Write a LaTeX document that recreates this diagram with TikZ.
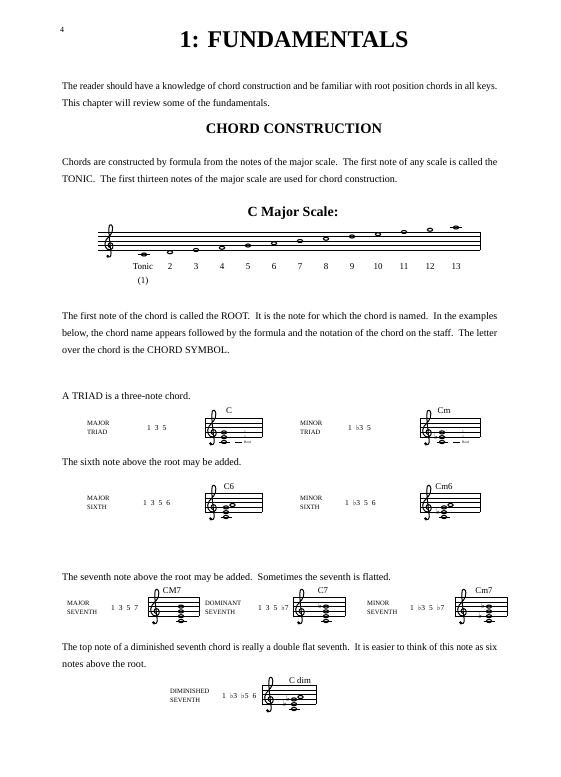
\documentclass[tikz,border=0pt]{standalone}
\usepackage{fontspec}
\setmainfont{Liberation Serif}
\newfontfamily\symfont{DejaVu Sans}
\usetikzlibrary{shapes.geometric}
\newcommand{\flatsign}{{\symfont\char"266D}}

\begin{document}
\begin{tikzpicture}[x=1pt,y=1pt,
  txt/.style={anchor=base west, inner sep=0pt, font=\fontsize{10.1}{12}\selectfont},
  head/.style={inner sep=0pt, font=\bfseries\fontsize{14.5}{17}\selectfont},
  lbl/.style={anchor=west, inner sep=0pt, align=left, font=\fontsize{6.6}{8.8}\selectfont},
  form/.style={anchor=west, inner sep=0pt, font=\fontsize{7.5}{9}\selectfont},
  csym/.style={inner sep=0pt, font=\fontsize{8.8}{10}\selectfont},
  num/.style={inner sep=0pt, font=\fontsize{9}{11}\selectfont},
  tiny/.style={anchor=west, inner sep=0pt, font=\fontsize{3.6}{4}\selectfont},
  wnote/.style={ellipse, draw, line width=1.1pt, minimum width=5.2pt, minimum height=3.1pt, inner sep=0pt},
  flat/.style={anchor=base east, inner sep=0pt, font=\symfont\fontsize{8}{8}\selectfont},
  staffline/.style={line width=0.55pt},
  gclef/.pic={
    \draw[line width=1.0pt] (0.25,0.55)
      .. controls (-0.35,0.65) and (-0.35,1.55) .. (0.3,1.6)
      .. controls (1.0,1.6) and (1.15,0.35) .. (0.35,0.05)
      .. controls (-0.7,-0.2) and (-1.3,1.3) .. (-0.6,2.3)
      .. controls (-0.1,3.0) and (0.9,3.6) .. (0.8,4.9)
      .. controls (0.75,5.6) and (0.25,5.9) .. (0.05,5.3)
      .. controls (-0.2,4.3) and (0.2,1.5) .. (0.45,-0.6)
      .. controls (0.55,-1.4) and (0.1,-1.8) .. (-0.35,-1.6);
    \fill (-0.3,-1.35) circle (0.32);
  }]
\useasboundingbox[fill=white] (0,0) rectangle (560,-777);

% page head
\node[inner sep=0pt, font=\fontsize{8}{9}\selectfont] (pagenum) at (62,-30) {4};
\node[inner sep=0pt, font=\bfseries\fontsize{24}{28}\selectfont] (title) at (294,-40) {1: FUNDAMENTALS};

\node[txt] (p1a) at (62,-89.5) {\resizebox{435pt}{\height}{The reader should have a knowledge of chord construction and be familiar with root position chords in all keys.}};
\node[txt] (p1b) at (62,-106.5) {This chapter will review some of the fundamentals.};

\node[head] (cc) at (294,-129) {CHORD CONSTRUCTION};

\node[txt] (p2a) at (62,-165.5) {\resizebox{435pt}{\height}{Chords are constructed by formula from the notes of the major scale.\ \ The first note of any scale is called the}};
\node[txt] (p2b) at (62,-182.5) {TONIC.\ \ The first thirteen notes of the major scale are used for chord construction.};

% C major scale
\node[head, font=\bfseries\fontsize{14}{17}\selectfont] (cms) at (293,-213) {C Major Scale:};
\foreach \k in {0,...,4} \draw[staffline] (98,-232-\k*4.5) -- (480,-232-\k*4.5);
\draw[staffline] (480,-232) -- (480,-250);
\pic[scale=4.5] at (109,-250) {gclef};

\draw[staffline] (138,-254.5) -- (150,-254.5);
\draw[staffline] (450,-227.5) -- (462,-227.5);
\node[wnote] (s1) at (144,-254.5) {};
\node[wnote] (s2) at (170,-252.25) {};
\node[wnote] (s3) at (196,-250) {};
\node[wnote] (s4) at (222,-247.75) {};
\node[wnote] (s5) at (248,-245.5) {};
\node[wnote] (s6) at (274,-243.25) {};
\node[wnote] (s7) at (300,-241) {};
\node[wnote] (s8) at (326,-238.75) {};
\node[wnote] (s9) at (352,-236.5) {};
\node[wnote] (s10) at (378,-234.25) {};
\node[wnote] (s11) at (404,-232) {};
\node[wnote] (s12) at (430,-229.75) {};
\node[wnote] (s13) at (456,-227.5) {};

\node[num] (n1) at (143,-267) {Tonic};
\node[num] (n1b) at (143,-281) {(1)};
\node[num] (n2) at (170,-267) {2};
\node[num] (n3) at (196,-267) {3};
\node[num] (n4) at (222,-267) {4};
\node[num] (n5) at (248,-267) {5};
\node[num] (n6) at (274,-267) {6};
\node[num] (n7) at (300,-267) {7};
\node[num] (n8) at (326,-267) {8};
\node[num] (n9) at (352,-267) {9};
\node[num] (n10) at (378,-267) {10};
\node[num] (n11) at (404,-267) {11};
\node[num] (n12) at (430,-267) {12};
\node[num] (n13) at (456,-267) {13};

\node[txt] (p3a) at (62,-319.5) {\resizebox{435pt}{\height}{The first note of the chord is called the ROOT.\ \ It is the note for which the chord is named.\ \ In the examples}};
\node[txt] (p3b) at (62,-336.5) {\resizebox{435pt}{\height}{below, the chord name appears followed by the formula and the notation of the chord on the staff.\ \ The letter}};
\node[txt] (p3c) at (62,-353) {over the chord is the CHORD SYMBOL.};

% triads
\node[txt] (p4) at (62,-399.5) {A TRIAD is a three-note chord.};

\node[lbl] (majtri) at (87,-428) {MAJOR\\TRIAD};
\node[form] (majtrif) at (147,-428) {1\hspace{4pt}3\hspace{4pt}5};
\foreach \k in {0,...,4} \draw[staffline] (205,-418-\k*4.8) -- (262,-418-\k*4.8);
\draw[staffline] (205,-418) -- (205,-437.2);
\draw[staffline] (262,-418) -- (262,-437.2);
\pic[scale=4.8] at (212,-437.2) {gclef};
\draw[staffline] (218.5,-442) -- (229.5,-442);
\node[wnote] (c1) at (224,-442) {};
\node[wnote] (c3) at (224,-437.2) {};
\node[wnote] (c5) at (224,-432.4) {};
\node[csym] (csymC) at (229,-411) {C};
\draw[line width=0.9pt] (235,-442) -- (242,-442);
\draw[line width=0.9pt] (235,-437.2) -- (242,-437.2);
\draw[line width=0.9pt] (235,-432.4) -- (242,-432.4);
\node[tiny] (c5t) at (244,-432.4) {5};
\node[tiny] (c3t) at (244,-437.2) {3};
\node[tiny] (c1t) at (244,-442.6) {Root};

\node[lbl] (mintri) at (300,-428) {MINOR\\TRIAD};
\node[form] (mintrif) at (348,-428) {1\hspace{4pt}\flatsign3\hspace{4pt}5};
\foreach \k in {0,...,4} \draw[staffline] (420,-418-\k*4.8) -- (480,-418-\k*4.8);
\draw[staffline] (420,-418) -- (420,-437.2);
\draw[staffline] (480,-418) -- (480,-437.2);
\pic[scale=4.8] at (427,-437.2) {gclef};
\draw[staffline] (436.5,-442) -- (447.5,-442);
\node[wnote] (m1) at (442,-442) {};
\node[wnote] (m3) at (442,-437.2) {};
\node[wnote] (m5) at (442,-432.4) {};
\node[flat] (m3f) at (m3.west) [xshift=-0.8pt, yshift=-1.8pt] {\char"266D};
\node[csym] (csymCm) at (444,-411) {Cm};
\draw[line width=0.9pt] (453,-442) -- (460,-442);
\draw[line width=0.9pt] (453,-437.2) -- (460,-437.2);
\draw[line width=0.9pt] (453,-432.4) -- (460,-432.4);
\node[tiny] (m5t) at (462,-432.4) {5};
\node[tiny] (m3t) at (462,-437.2) {3};
\node[tiny] (m1t) at (462,-442.6) {Root};

% sixths
\node[txt] (p5) at (62,-465.5) {The sixth note above the root may be added.};

\node[lbl] (majsix) at (87,-503) {MAJOR\\SIXTH};
\node[form] (majsixf) at (143,-503) {1\hspace{4pt}3\hspace{4pt}5\hspace{4pt}6};
\foreach \k in {0,...,4} \draw[staffline] (205,-493-\k*4.8) -- (262,-493-\k*4.8);
\draw[staffline] (205,-493) -- (205,-512.2);
\draw[staffline] (262,-493) -- (262,-512.2);
\pic[scale=4.8] at (212,-512.2) {gclef};
\draw[staffline] (220.5,-517) -- (231.5,-517);
\node[wnote] (d1) at (226,-517) {};
\node[wnote] (d3) at (226,-512.2) {};
\node[wnote] (d5) at (226,-507.4) {};
\node[wnote] (d6) at (232.5,-505) {};
\node[csym] (csymC6) at (229,-487) {C6};

\node[lbl] (minsix) at (300,-503) {MINOR\\SIXTH};
\node[form] (minsixf) at (345,-503) {1\hspace{4pt}\flatsign3\hspace{4pt}5\hspace{4pt}6};
\foreach \k in {0,...,4} \draw[staffline] (420,-493-\k*4.8) -- (480,-493-\k*4.8);
\draw[staffline] (420,-493) -- (420,-512.2);
\draw[staffline] (480,-493) -- (480,-512.2);
\pic[scale=4.8] at (427,-512.2) {gclef};
\draw[staffline] (438.5,-517) -- (449.5,-517);
\node[wnote] (e1) at (444,-517) {};
\node[wnote] (e3) at (444,-512.2) {};
\node[wnote] (e5) at (444,-507.4) {};
\node[wnote] (e6) at (450.5,-505) {};
\node[flat] (e3f) at (e3.west) [xshift=-0.8pt, yshift=-1.8pt] {\char"266D};
\node[csym] (csymCm6) at (444,-487) {Cm6};

% sevenths
\node[txt] (p6) at (62,-580.5) {The seventh note above the root may be added.\ \ Sometimes the seventh is flatted.};

\node[lbl] (majsev) at (67,-608) {MAJOR\\SEVENTH};
\node[form] (majsevf) at (111,-608) {1\hspace{4pt}3\hspace{4pt}5\hspace{4pt}7};
\foreach \k in {0,...,4} \draw[staffline] (148,-597-\k*4.8) -- (199,-597-\k*4.8);
\draw[staffline] (148,-597) -- (148,-616.2);
\draw[staffline] (199,-597) -- (199,-616.2);
\pic[scale=4.8] at (155,-616.2) {gclef};
\draw[staffline] (175.5,-621) -- (186.5,-621);
\node[wnote] (f1) at (181,-621) {};
\node[wnote] (f3) at (181,-616.2) {};
\node[wnote] (f5) at (181,-611.4) {};
\node[wnote] (f7) at (181,-606.6) {};
\node[csym] (csymCM7) at (172,-591) {CM7};

\node[lbl] (domsev) at (205,-608) {DOMINANT\\SEVENTH};
\node[form] (domsevf) at (258,-608) {1\hspace{4pt}3\hspace{4pt}5\hspace{4pt}\flatsign7};
\foreach \k in {0,...,4} \draw[staffline] (293,-597-\k*4.8) -- (345,-597-\k*4.8);
\draw[staffline] (293,-597) -- (293,-616.2);
\draw[staffline] (345,-597) -- (345,-616.2);
\pic[scale=4.8] at (300,-616.2) {gclef};
\draw[staffline] (320.5,-621) -- (331.5,-621);
\node[wnote] (g1) at (326,-621) {};
\node[wnote] (g3) at (326,-616.2) {};
\node[wnote] (g5) at (326,-611.4) {};
\node[wnote] (g7) at (326,-606.6) {};
\node[flat] (g7f) at (g7.west) [xshift=-0.8pt, yshift=-1.8pt] {\char"266D};
\node[csym] (csymC7) at (323,-591) {C7};

\node[lbl] (minsev) at (367,-608) {MINOR\\SEVENTH};
\node[form] (minsevf) at (410,-608) {1\hspace{4pt}\flatsign3\hspace{4pt}5\hspace{4pt}\flatsign7};
\foreach \k in {0,...,4} \draw[staffline] (455,-597-\k*4.8) -- (507,-597-\k*4.8);
\draw[staffline] (455,-597) -- (455,-616.2);
\draw[staffline] (507,-597) -- (507,-616.2);
\pic[scale=4.8] at (462,-616.2) {gclef};
\draw[staffline] (483.5,-621) -- (494.5,-621);
\node[wnote] (h1) at (489,-621) {};
\node[wnote] (h3) at (489,-616.2) {};
\node[wnote] (h5) at (489,-611.4) {};
\node[wnote] (h7) at (489,-606.6) {};
\node[flat] (h3f) at (h3.west) [xshift=-3.5pt, yshift=-1.8pt] {\char"266D};
\node[flat] (h7f) at (h7.west) [xshift=-0.8pt, yshift=-1.8pt] {\char"266D};
\node[csym] (csymCm7) at (484,-591) {Cm7};

% diminished
\node[txt] (p7a) at (62,-650.5) {\resizebox{435pt}{\height}{The top note of a diminished seventh chord is really a double flat seventh.\ \ It is easier to think of this note as six}};
\node[txt] (p7b) at (62,-667.5) {notes above the root.};

\node[lbl] (dimsev) at (170,-696) {DIMINISHED\\SEVENTH};
\node[form] (dimsevf) at (222,-696) {1\hspace{4pt}\flatsign3\hspace{4pt}\flatsign5\hspace{4pt}6};
\foreach \k in {0,...,4} \draw[staffline] (262,-685-\k*4.8) -- (316,-685-\k*4.8);
\draw[staffline] (262,-685) -- (262,-704.2);
\draw[staffline] (316,-685) -- (316,-704.2);
\pic[scale=4.8] at (269,-704.2) {gclef};
\draw[staffline] (288.5,-709) -- (299.5,-709);
\node[wnote] (k1) at (294,-709) {};
\node[wnote] (k3) at (294,-704.2) {};
\node[wnote] (k5) at (294,-699.4) {};
\node[wnote] (k6) at (300.5,-697) {};
\node[flat] (k3f) at (k3.west) [xshift=-4pt, yshift=-1.8pt] {\char"266D};
\node[flat] (k5f) at (k5.west) [xshift=-0.8pt, yshift=-1.8pt] {\char"266D};
\node[csym] (csymCdim) at (300,-680) {C dim};

\end{tikzpicture}
\end{document}
